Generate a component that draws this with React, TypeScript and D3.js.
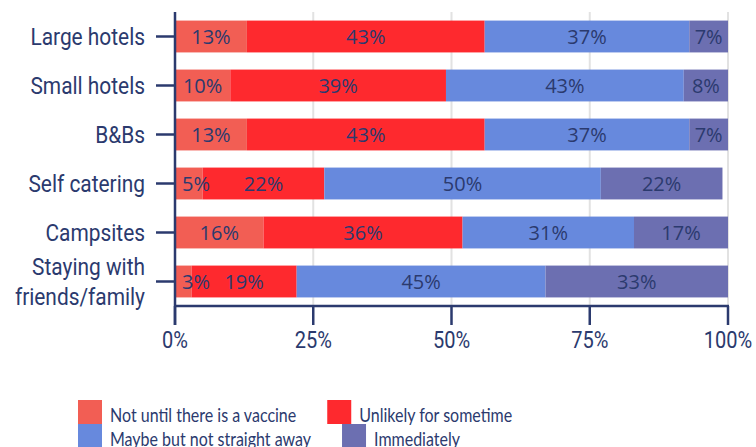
import React, { useEffect, useRef } from "react";
import * as d3 from "d3";

const categories = [
  "Large hotels",
  "Small hotels",
  "B&Bs",
  "Self catering",
  "Campsites",
  "Staying with friends/family",
];
// how each category label is broken over lines
const categoryLines = [
  ["Large hotels"],
  ["Small hotels"],
  ["B&Bs"],
  ["Self catering"],
  ["Campsites"],
  ["Staying with", "friends/family"],
];
const seriesNames = [
  "Not until there is a vaccine",
  "Unlikely for sometime",
  "Maybe but not straight away",
  "Immediately",
];
const notUntilVaccine = [13, 10, 13, 5, 16, 3];
const unlikelyForSometime = [43, 39, 43, 22, 36, 19];
const maybeNotStraightAway = [37, 43, 37, 50, 31, 45];
const immediately = [7, 8, 7, 22, 17, 33];
const xTicks = [0, 25, 50, 75, 100];
const colors = ["#f25e54", "#fe292e", "#6789dd", "#6c6fb1"];

const NAVY = "#2b3a6e";

const App = () => {
  const svgRef = useRef<SVGSVGElement | null>(null);

  useEffect(() => {
    const width = 756;
    const height = 447;
    const margin = { top: 12, left: 175, right: 28, bottom: 141 };

    const svg = d3.select(svgRef.current);
    svg.selectAll("*").remove();

    const rows = categories.map((c, i) => ({
      category: c,
      [seriesNames[0]]: notUntilVaccine[i],
      [seriesNames[1]]: unlikelyForSometime[i],
      [seriesNames[2]]: maybeNotStraightAway[i],
      [seriesNames[3]]: immediately[i],
    }));

    const x = d3
      .scaleLinear()
      .domain([0, 100])
      .range([margin.left, width - margin.right]);

    const y = d3
      .scaleBand()
      .domain(categories)
      .range([margin.top, height - margin.bottom])
      .paddingInner(0.35)
      .paddingOuter(0.175);

    const stacked = d3.stack<any>().keys(seriesNames)(rows);

    // Gridlines
    svg
      .append("g")
      .selectAll("line")
      .data(xTicks.filter((t) => t > 0))
      .enter()
      .append("line")
      .attr("x1", (d) => x(d))
      .attr("x2", (d) => x(d))
      .attr("y1", margin.top)
      .attr("y2", height - margin.bottom)
      .attr("stroke", "#e2e2e2")
      .attr("stroke-width", 2);

    // Bars
    const layers = svg
      .append("g")
      .selectAll("g")
      .data(stacked)
      .enter()
      .append("g")
      .attr("fill", (_, i) => colors[i]);

    layers
      .selectAll("rect")
      .data((d) => d)
      .enter()
      .append("rect")
      .attr("x", (d) => x(d[0]))
      .attr("y", (d) => y(d.data.category)!)
      .attr("width", (d) => x(d[1]) - x(d[0]))
      .attr("height", y.bandwidth());

    // Value labels
    const labels = svg.append("g");
    stacked.forEach((layer) => {
      layer.forEach((d) => {
        const x0 = x(d[0]);
        const w = x(d[1]) - x0;
        const v = d[1] - d[0];
        const narrow = w < 30;
        labels
          .append("text")
          .attr("x", narrow ? x0 + 7 : x0 + w / 2)
          .attr("y", y(d.data.category)! + y.bandwidth() / 2 + 7)
          .attr("text-anchor", narrow ? "start" : "middle")
          .attr("font-family", "'Open Sans', sans-serif")
          .attr("font-size", 20)
          .attr("fill", NAVY)
          .text(`${v}%`);
      });
    });

    // Y axis
    const yAxis = svg.append("g");
    yAxis
      .append("line")
      .attr("x1", margin.left)
      .attr("x2", margin.left)
      .attr("y1", margin.top)
      .attr("y2", height - margin.bottom + 19)
      .attr("stroke", NAVY)
      .attr("stroke-width", 2.5);
    categories.forEach((c, i) => {
      const cy = y(c)! + y.bandwidth() / 2;
      yAxis
        .append("line")
        .attr("x1", margin.left - 19)
        .attr("x2", margin.left)
        .attr("y1", cy)
        .attr("y2", cy)
        .attr("stroke", NAVY)
        .attr("stroke-width", 2.5);
      const lines = categoryLines[i];
      lines.forEach((ln, j) => {
        const off = (j - (lines.length - 1) / 2) * 30;
        yAxis
          .append("text")
          .attr(
            "transform",
            `translate(${margin.left - 30},${cy + off + 8.5}) scale(0.87,1)`
          )
          .attr("text-anchor", "end")
          .attr("font-family", "Roboto, sans-serif")
          .attr("font-size", 24)
          .attr("fill", NAVY)
          .text(ln);
      });
    });

    // X axis
    const xAxis = svg.append("g");
    xAxis
      .append("line")
      .attr("x1", margin.left)
      .attr("x2", x(100) + 1)
      .attr("y1", height - margin.bottom)
      .attr("y2", height - margin.bottom)
      .attr("stroke", NAVY)
      .attr("stroke-width", 2.5);
    xTicks.forEach((t) => {
      xAxis
        .append("line")
        .attr("x1", x(t))
        .attr("x2", x(t))
        .attr("y1", height - margin.bottom)
        .attr("y2", height - margin.bottom + 19)
        .attr("stroke", NAVY)
        .attr("stroke-width", 2.5);
      xAxis
        .append("text")
        .attr("transform", `translate(${x(t)},${height - margin.bottom + 42}) scale(0.87,1)`)
        .attr("text-anchor", "middle")
        .attr("font-family", "Roboto, sans-serif")
        .attr("font-size", 23)
        .attr("fill", NAVY)
        .text(`${t}%`);
    });

    // Legend: 2 per row, next item placed after previous text
    const legend = svg.append("g");
    const legendX = 78;
    const rowY = [400, 424];
    const sx = 0.8;
    for (let r = 0; r < 2; r++) {
      let cx = legendX;
      for (let c = 0; c < 2; c++) {
        const idx = r * 2 + c;
        legend
          .append("rect")
          .attr("x", cx)
          .attr("y", rowY[r])
          .attr("width", 24)
          .attr("height", 24)
          .attr("fill", colors[idx]);
        const txt = legend
          .append("text")
          .attr("transform", `translate(${cx + 32},${rowY[r] + 21.5}) scale(${sx},1)`)
          .attr("font-family", "Lato, sans-serif")
          .attr("font-size", 20)
          .attr("fill", NAVY)
          .text(seriesNames[idx]);
        const tw = (txt.node() as SVGTextElement).getComputedTextLength() * sx;
        cx = cx + 32 + tw + 31;
      }
    }
  }, []);

  return (
    <svg
      ref={svgRef}
      width={756}
      height={447}
      style={{ position: "absolute", left: 0, top: 0, background: "#fff" }}
    ></svg>
  );
};

export default App;
